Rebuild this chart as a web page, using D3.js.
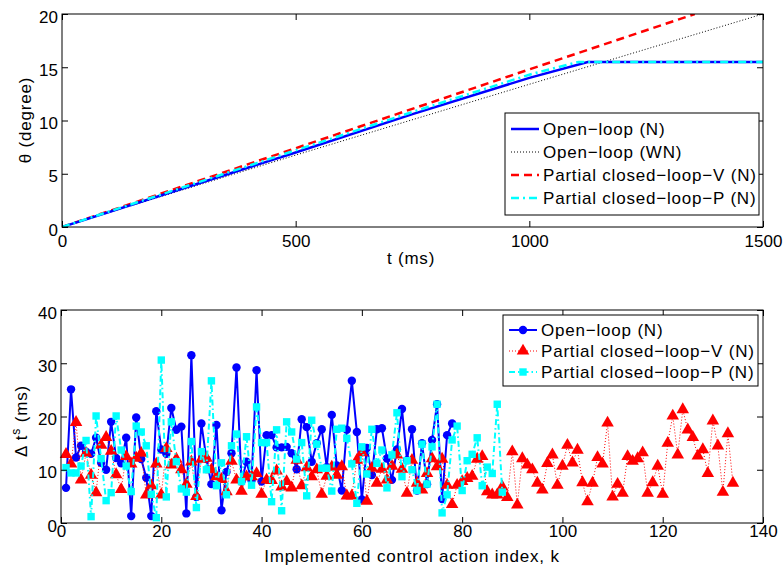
<!DOCTYPE html>
<html>
<head>
<meta charset="utf-8">
<script src="https://cdn.jsdelivr.net/npm/d3@7"></script>
<style>
  body { margin: 0; background: #fff; }
  text { font-family: "Liberation Sans", Arial, Helvetica, sans-serif; }
  .lbl { letter-spacing: 0.8px; }
</style>
</head>
<body>
<div id="chart"></div>
<script>
// ---- Top plot data: theta (degree) vs t (ms)
var openLoopT   = [0, 250, 500, 750, 1000, 1125, 1500];
var openLoopV   = [0, 3.5, 7.0, 10.6, 14.0, 15.5, 15.5];
var openWnT     = [0, 500, 1000, 1500];
var openWnV     = [0, 6.75, 13.4, 20];
var partialVT   = [0, 500, 1000, 1354];
var partialVV   = [0, 7.4, 14.8, 20];
var partialPT   = [0, 250, 500, 750, 1000, 1105, 1500];
var partialPV   = [0, 3.6, 7.2, 10.8, 14.3, 15.5, 15.5];

// ---- Bottom plot data: delta t^s (ms) per control action index k = 1, 2, ...
var openLoopDt = [6.6, 25.1, 12.3, 14.5, 13.4, 13.0, 16, 11.3, 10, 19,
    12.2, 11.2, 16, 1.3, 19.8, 12, 8.5, 1.3, 21, 13.8,
    13, 21.6, 17.5, 18.1, 1.8, 31.5, 4.9, 18.7, 12, 7.3,
    18.4, 2.4, 9.6, 13.1, 29.2, 7.8, 11.5, 8, 28.7, 7.8,
    16.5, 16.5, 14.2, 14.2, 14.3, 13.1, 10.1, 19.5, 18, 11.5,
    15, 17.6, 10.5, 20.3, 10.8, 6.1, 17.5, 26.7, 17.1, 4.4,
    14.1, 9, 17.6, 17.8, 12.1, 8.1, 13.8, 21.4, 11.8, 17.6,
    6.1, 15, 7.3, 15.6, 22.3, 4.5, 16.5, 18.7];

var partialVDt = [12.9, 11.1, 18.9, 8.1, 13.1, 9, 5.7, 14.6, 16.1, 13.5,
    9.1, 6.3, 12.5, 11.1, 12.2, 13.1, 5.3, 7, 11.1, 5.3,
    14, 10.9, 12, 10, 7.3, 11.5, 5, 12, 12.2, 10,
    8.7, 8.2, 5.9, 11.6, 8.1, 6, 8.7, 8.7, 9.3, 5.4,
    8.1, 8, 9.8, 6.8, 7.8, 6.6, 11.8, 7, 10.4, 8.7,
    10, 5.4, 8.8, 10.5, 9, 10.6, 5.1, 5.1, 11.8, 13.2,
    4.1, 10.3, 7.5, 10.1, 8.1, 10.7, 12.8, 10.1, 5.6, 11.8,
    7.5, 6.2, 9.3, 12.1, 10.6, 12, 7.1, 3.5, 7.1, 7.8,
    8.4, 8.8, 12, 12.5, 5.9, 5.3, 5.3, 6.8, 4.8, 13.4,
    3.4, 12.1, 10.9, 10, 7.5, 6.2, 11.2, 12.8, 7.1, 10.7,
    14.6, 11.3, 13.7, 7.6, 4, 7.5, 12.3, 11.1, 18.8, 4.9,
    7.3, 5.6, 12.5, 11.6, 12.1, 13.2, 5.6, 7.6, 10.7, 5.4,
    15, 20.1, 12.8, 21.3, 17.5, 16.1, 12.6, 13.8, 9.3, 19.2,
    14.5, 5.8, 16.8, 7.5];

var partialPDt = [10.4, 9.4, 9.4, 10.7, 15.5, 1.2, 20.1, 12.1, 4.2, 5.7,
    20.1, 13.7, 10.7, 5.9, 18.2, 17.1, 14.5, 5.4, 1.0, 30.6,
    4.9, 19, 11.5, 6.4, 5.8, 15.3, 2.9, 13.4, 10, 26.7,
    7, 11.3, 5.3, 14.5, 16.7, 7.8, 16.2, 7.1, 21.8, 15.1,
    15.1, 4, 17.5, 2.3, 19, 17.1, 12, 15.1, 5.1, 19.3,
    14.8, 10.3, 10.3, 6, 17.6, 17.8, 15.9, 11.1, 3.7, 14.3,
    9.2, 17.6, 11.2, 13.7, 6.6, 12.8, 20.7, 8.7, 11.7, 10,
    6.1, 14.8, 7.3, 14.3, 22.3, 1.9, 5.3, 15.6, 18.2, 6.1,
    11.7, 12.9, 16, 7, 10.5, 9.3, 22.3, 5.8];

var topXTicks = [0, 500, 1000, 1500];
var topYTicks = [0, 5, 10, 15, 20];
var botXTicks = [0, 20, 40, 60, 80, 100, 120, 140];
var botYTicks = [0, 10, 20, 30, 40];

var topLegend = ["Open\u2212loop (N)", "Open\u2212loop (WN)",
    "Partial closed\u2212loop\u2212V (N)", "Partial closed\u2212loop\u2212P (N)"];
var botLegend = ["Open\u2212loop (N)", "Partial closed\u2212loop\u2212V (N)",
    "Partial closed\u2212loop\u2212P (N)"];

function zip(xs, ys) { return xs.map(function (x, i) { return { x: x, y: ys[i] }; }); }
function indexed(vals) { return vals.map(function (v, i) { return { x: i + 1, y: v }; }); }

var svg = d3.select("#chart").append("svg")
    .attr("width", 784)
    .attr("height", 569);

// Draws the boxed axes MATLAB style: inward ticks on all four sides
function drawAxes(x, y, xTicks, yTicks, xPad) {
    var x0 = x.range()[0], x1 = x.range()[1], y0 = y.range()[0], y1 = y.range()[1];
    var g = svg.append("g");
    var fmt = d3.format("d");

    g.append("g")
        .attr("transform", `translate(0,${y0})`)
        .call(d3.axisBottom(x).tickValues(xTicks).tickFormat(fmt).tickSize(-6).tickSizeOuter(0).tickPadding(xPad));
    g.append("g")
        .attr("transform", `translate(0,${y1})`)
        .call(d3.axisTop(x).tickValues(xTicks).tickSize(-6).tickSizeOuter(0).tickFormat(""));
    var left = g.append("g")
        .attr("transform", `translate(${x0},0)`)
        .call(d3.axisLeft(y).tickValues(yTicks).tickFormat(fmt).tickSize(-6).tickSizeOuter(0).tickPadding(4));
    g.append("g")
        .attr("transform", `translate(${x1},0)`)
        .call(d3.axisRight(y).tickValues(yTicks).tickSize(-6).tickSizeOuter(0).tickFormat(""));

    g.selectAll(".tick line").attr("stroke", "#000");
    g.selectAll(".domain").remove();
    g.selectAll(".tick text")
        .attr("font-size", 17)
        .attr("fill", "#000")
        .style("font-family", "'Liberation Sans', Arial, sans-serif");
    // y labels sit a little under the tick, like the original
    left.selectAll(".tick text").attr("dy", "0.47em");

    g.append("rect")
        .attr("x", x0).attr("y", y1)
        .attr("width", x1 - x0).attr("height", y0 - y1)
        .attr("fill", "none").attr("stroke", "#000").attr("stroke-width", 1);
    return g;
}

// ================= Top plot =================
var xT = d3.scaleLinear().domain([0, 1500]).range([62, 763]);
var yT = d3.scaleLinear().domain([0, 20]).range([227, 14]);

svg.append("clipPath").attr("id", "clipTop")
    .append("rect").attr("x", 62).attr("y", 14).attr("width", 701).attr("height", 213);

var lineT = d3.line().x(d => xT(d.x)).y(d => yT(d.y));
var topSeries = [
    { data: zip(openWnT, openWnV), color: "#000", width: 1, dash: "1,2" },
    { data: zip(partialVT, partialVV), color: "#ff0000", width: 2.5, dash: "8,5" },
    { data: zip(openLoopT, openLoopV), color: "#0000ff", width: 2.5, dash: null },
    { data: zip(partialPT, partialPV), color: "#00ffff", width: 2.5, dash: "8,4,2,4" }
];
var topG = svg.append("g").attr("clip-path", "url(#clipTop)");
topSeries.forEach(function (s) {
    topG.append("path")
        .datum(s.data)
        .attr("fill", "none")
        .attr("stroke", s.color)
        .attr("stroke-width", s.width)
        .attr("stroke-dasharray", s.dash)
        .attr("d", lineT);
});

drawAxes(xT, yT, topXTicks, topYTicks, 8);

svg.append("text")
    .attr("class", "lbl")
    .attr("x", 411).attr("y", 264)
    .attr("text-anchor", "middle").attr("font-size", 17)
    .text("t (ms)");
svg.append("text")
    .attr("class", "lbl")
    .attr("transform", "translate(31,120) rotate(-90)")
    .attr("text-anchor", "middle").attr("font-size", 17)
    .text("\u03b8 (degree)");

// legend (top)
var legT = svg.append("g");
legT.append("rect")
    .attr("x", 505).attr("y", 113).attr("width", 254).attr("height", 102)
    .attr("fill", "#fff").attr("stroke", "#000");
var legTStyle = [
    { color: "#0000ff", width: 2.5, dash: null },
    { color: "#000", width: 1, dash: "1,2" },
    { color: "#ff0000", width: 2.5, dash: "8,5" },
    { color: "#00ffff", width: 2.5, dash: "8,4,2,4" }
];
topLegend.forEach(function (name, i) {
    var ly = 129 + i * 23;
    legT.append("line")
        .attr("x1", 511).attr("x2", 539).attr("y1", ly).attr("y2", ly)
        .attr("stroke", legTStyle[i].color)
        .attr("stroke-width", legTStyle[i].width)
        .attr("stroke-dasharray", legTStyle[i].dash);
    legT.append("text")
        .attr("class", "lbl")
        .attr("x", 543).attr("y", ly).attr("dy", "0.36em")
        .attr("font-size", 17)
        .text(name);
});

// ================= Bottom plot =================
var xB = d3.scaleLinear().domain([0, 140]).range([61, 763]);
var yB = d3.scaleLinear().domain([0, 40]).range([523, 310]);

var lineB = d3.line().x(d => xB(d.x)).y(d => yB(d.y));
var tri = d3.symbol().type(d3.symbolTriangle).size(68);

// Open-loop: solid blue with circles
svg.append("path")
    .datum(indexed(openLoopDt))
    .attr("fill", "none").attr("stroke", "#0000ff").attr("stroke-width", 2)
    .attr("d", lineB);
svg.append("g").selectAll("circle")
    .data(indexed(openLoopDt))
    .enter().append("circle")
    .attr("cx", d => xB(d.x)).attr("cy", d => yB(d.y)).attr("r", 4.2)
    .attr("fill", "#0000ff");

// Partial closed-loop-V: dotted red with triangles
svg.append("path")
    .datum(indexed(partialVDt))
    .attr("fill", "none").attr("stroke", "#ff0000").attr("stroke-width", 1)
    .attr("stroke-dasharray", "1,2")
    .attr("d", lineB);
svg.append("g").selectAll("path")
    .data(indexed(partialVDt))
    .enter().append("path")
    .attr("d", tri)
    .attr("transform", d => `translate(${xB(d.x)},${yB(d.y)})`)
    .attr("fill", "#ff0000");

// Partial closed-loop-P: dash-dot cyan with squares
svg.append("path")
    .datum(indexed(partialPDt))
    .attr("fill", "none").attr("stroke", "#00ffff").attr("stroke-width", 2)
    .attr("stroke-dasharray", "6,3,1.5,3")
    .attr("d", lineB);
svg.append("g").selectAll("rect")
    .data(indexed(partialPDt))
    .enter().append("rect")
    .attr("x", d => xB(d.x) - 3.7).attr("y", d => yB(d.y) - 3.7)
    .attr("width", 7.4).attr("height", 7.4)
    .attr("fill", "#00ffff");

drawAxes(xB, yB, botXTicks, botYTicks, 2);

svg.append("text")
    .attr("class", "lbl")
    .attr("x", 412).attr("y", 562)
    .attr("text-anchor", "middle").attr("font-size", 17)
    .text("Implemented control action index, k");
var yLab = svg.append("text")
    .attr("class", "lbl")
    .attr("transform", "translate(27,421) rotate(-90)")
    .attr("text-anchor", "middle").attr("font-size", 17);
yLab.append("tspan").text("\u0394 t");
yLab.append("tspan").attr("font-size", 12).attr("dy", "-0.6em").text("s");
yLab.append("tspan").attr("dy", "0.42em").text(" (ms)");

// legend (bottom)
var legB = svg.append("g");
legB.append("rect")
    .attr("x", 503).attr("y", 315).attr("width", 255).attr("height", 71)
    .attr("fill", "#fff").attr("stroke", "#000");
botLegend.forEach(function (name, i) {
    var ly = 330 + i * 21;
    var colors = ["#0000ff", "#ff0000", "#00ffff"];
    legB.append("line")
        .attr("x1", 509).attr("x2", 537).attr("y1", ly).attr("y2", ly)
        .attr("stroke", colors[i])
        .attr("stroke-width", i === 1 ? 1 : 2)
        .attr("stroke-dasharray", i === 0 ? null : (i === 1 ? "1,2" : "6,3,1.5,3"));
    if (i === 0) {
        legB.append("circle").attr("cx", 523).attr("cy", ly).attr("r", 4.2).attr("fill", colors[i]);
    } else if (i === 1) {
        legB.append("path").attr("d", tri).attr("transform", `translate(523,${ly})`).attr("fill", colors[i]);
    } else {
        legB.append("rect").attr("x", 519.3).attr("y", ly - 3.7).attr("width", 7.4).attr("height", 7.4).attr("fill", colors[i]);
    }
    legB.append("text")
        .attr("class", "lbl")
        .attr("x", 541).attr("y", ly).attr("dy", "0.36em")
        .attr("font-size", 17)
        .text(name);
});
</script>
</body>
</html>
